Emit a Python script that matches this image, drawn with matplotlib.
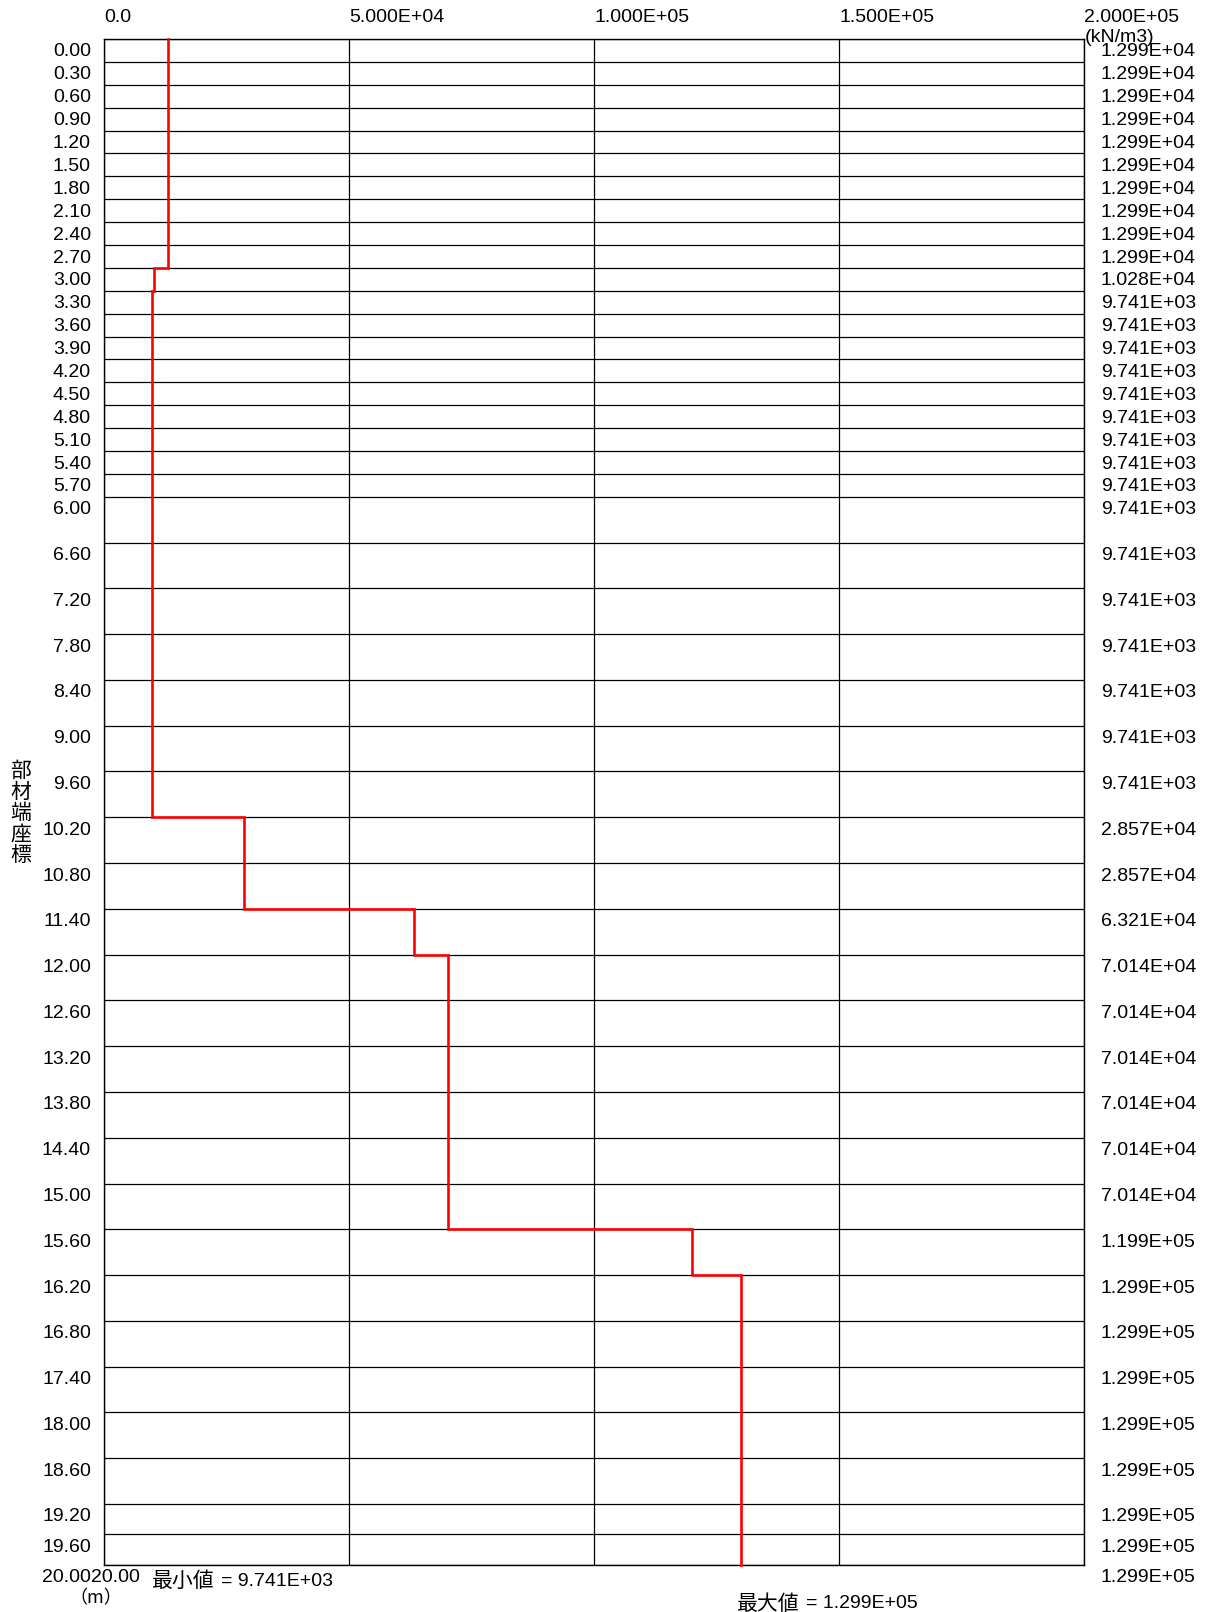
import matplotlib
matplotlib.use("Agg")
import matplotlib.pyplot as plt
import matplotlib.transforms as mtransforms
import numpy as np

plt.rcParams['font.family'] = ['Liberation Sans', 'Noto Sans CJK JP', 'DejaVu Sans']

# node depths (m) and subgrade reaction value at each node (kN/m3)
depths = [0.00, 0.30, 0.60, 0.90, 1.20, 1.50, 1.80, 2.10, 2.40, 2.70,
          3.00, 3.30, 3.60, 3.90, 4.20, 4.50, 4.80, 5.10, 5.40, 5.70,
          6.00, 6.60, 7.20, 7.80, 8.40, 9.00, 9.60, 10.20, 10.80, 11.40,
          12.00, 12.60, 13.20, 13.80, 14.40, 15.00, 15.60, 16.20, 16.80,
          17.40, 18.00, 18.60, 19.20, 19.60, 20.00]
values = [1.299e4] * 10 + [1.028e4] + [9.741e3] * 16 + [2.857e4, 2.857e4, 6.321e4] \
    + [7.014e4] * 6 + [1.199e5] + [1.299e5] * 8
x_ticks = [0.0, 5.0e4, 1.0e5, 1.5e5, 2.0e5]
x_tick_labels = ['0.0', '5.000E+04', '1.000E+05', '1.500E+05', '2.000E+05']

fs = 14
jp = ['Noto Sans CJK JP', 'DejaVu Sans']
fig = plt.figure(figsize=(12.05, 16.12), dpi=100)
ax = fig.add_axes([104 / 1205, 47 / 1612, 980 / 1205, 1526 / 1612])
ax.set_xlim(0, 2.0e5)
ax.set_ylim(20.0, 0.0)
ax.set_xticks([])
ax.set_yticks([])
for s in ax.spines.values():
    s.set_linewidth(1.0)
    s.set_color('black')

# grid
for x in x_ticks:
    ax.axvline(x, color='black', lw=0.9)
for d in depths:
    ax.axhline(d, color='black', lw=0.9)

# step line: value at node i holds down to node i+1
ys = np.repeat(depths, 2)[1:-1]
xs = np.repeat(values[:-1], 2)
ax.plot(xs, ys, color='red', lw=1.9, solid_joinstyle='miter', clip_on=False, zorder=5)

# labels
left_tr = mtransforms.offset_copy(ax.get_yaxis_transform(), fig=fig, x=-13, y=-13, units='dots')
right_tr = mtransforms.offset_copy(ax.get_yaxis_transform(), fig=fig, x=17, y=-13, units='dots')
for d, v in zip(depths, values):
    ax.text(0, d, f'{d:.2f}', transform=left_tr, ha='right', va='center', fontsize=fs)
    ax.text(1, d, f'{v:.3E}', transform=right_tr, ha='left', va='center', fontsize=fs)
# second bottom label
ax.text(0, depths[-1], f'{depths[-1]:.2f}', transform=left_tr, ha='left', va='center', fontsize=fs)

top_tr = mtransforms.offset_copy(ax.get_xaxis_transform(), fig=fig, x=0, y=22, units='dots')
for x, lab in zip(x_ticks, x_tick_labels):
    ax.text(x, 1, lab, transform=top_tr, ha='left', va='center', fontsize=fs)

fig.text(1085 / 1205, 1 - 37 / 1612, '(kN/m3)', ha='left', va='center', fontsize=fs)
fig.text(96 / 1205, 1 - 1598 / 1612, '（m）', ha='center', va='center', fontsize=13, family=jp)
fig.text(21 / 1205, 1 - 813 / 1612, '部\n材\n端\n座\n標', ha='center', va='center',
         fontsize=15, linespacing=0.95, family=jp)

# min / max annotations placed at their values
vmin, vmax = min(values), max(values)
bot_tr = mtransforms.offset_copy(ax.transData, fig=fig, x=0, y=-16, units='dots')
ax.text(vmin, 20.0, '最小値', transform=bot_tr, ha='left', va='center', fontsize=15, family=jp)
bot_tr_b = mtransforms.offset_copy(ax.transData, fig=fig, x=69, y=-16, units='dots')
ax.text(vmin, 20.0, f'= {vmin:.3E}', transform=bot_tr_b, ha='left', va='center', fontsize=fs)
bot_tr2 = mtransforms.offset_copy(ax.transData, fig=fig, x=-4, y=-39, units='dots')
ax.text(vmax, 20.0, '最大値', transform=bot_tr2, ha='left', va='center', fontsize=15, family=jp)
bot_tr2_b = mtransforms.offset_copy(ax.transData, fig=fig, x=65, y=-39, units='dots')
ax.text(vmax, 20.0, f'= {vmax:.3E}', transform=bot_tr2_b, ha='left', va='center', fontsize=fs)

fig.savefig('out.png', dpi=100)
